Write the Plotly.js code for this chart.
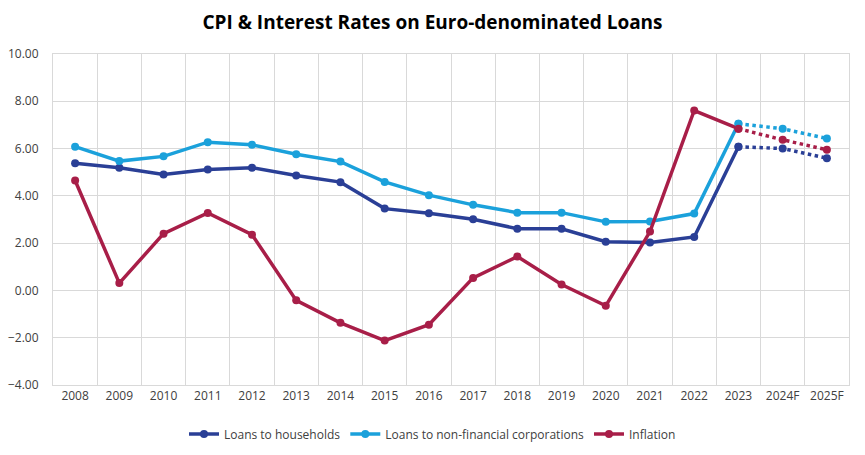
<!DOCTYPE html>
<html>
<head>
<meta charset="utf-8">
<script src="https://cdn.plot.ly/plotly-3.0.1.min.js"></script>
<style>html,body{margin:0;padding:0;background:#fff;}#chart{width:865px;height:455px;}</style>
</head>
<body>
<div id="chart"></div>
<script>
const years = ["2008","2009","2010","2011","2012","2013","2014","2015","2016","2017","2018","2019","2020","2021","2022","2023","2024F","2025F"];
const households = [5.38,5.19,4.90,5.11,5.19,4.86,4.58,3.46,3.26,3.01,2.61,2.61,2.06,2.03,2.26,6.08,6.00,5.59];
const corporations = [6.08,5.47,5.67,6.27,6.16,5.76,5.45,4.59,4.03,3.62,3.29,3.29,2.90,2.92,3.25,7.05,6.84,6.43];
const inflation = [4.65,0.31,2.40,3.28,2.36,-0.42,-1.37,-2.12,-1.45,0.53,1.43,0.25,-0.65,2.49,7.61,6.84,6.37,5.95];
const seriesNames = ["Loans to households","Loans to non-financial corporations","Inflation"];
const colors = ["#2A3F96","#1BA1DB","#A81E48"];
const actualCount = 16; // through 2023

const data = [];
[households, corporations, inflation].forEach((vals, i) => {
  data.push({
    x: years.slice(0, actualCount), y: vals.slice(0, actualCount),
    type: "scatter", mode: "lines+markers", name: seriesNames[i],
    line: {color: colors[i], width: 3.5}, marker: {color: colors[i], size: 8}
  });
});
[households, corporations, inflation].forEach((vals, i) => {
  data.push({
    x: years.slice(actualCount - 1), y: vals.slice(actualCount - 1),
    type: "scatter", mode: "lines+markers", showlegend: false,
    line: {color: colors[i], width: 3.5, dash: "dot"}, marker: {color: colors[i], size: 8}
  });
});

const layout = {
  width: 865, height: 455,
  margin: {l: 53, r: 16, t: 54, b: 70},
  paper_bgcolor: "#fff", plot_bgcolor: "#fff",
  font: {family: "Open Sans, sans-serif", color: "#404040", size: 12},
  title: {text: "<b>CPI & Interest Rates on Euro-denominated Loans</b>", x: 0.5, xanchor: "center", y: 0.951, yanchor: "middle",
          font: {size: 19, color: "#000", family: "Open Sans, sans-serif"}},
  xaxis: {type: "category", categoryorder: "array", categoryarray: years, range: [-0.5, years.length - 0.5],
          tickson: "boundaries", showgrid: true, gridcolor: "#d9d9d9", gridwidth: 1, tickangle: 0,
          automargin: false, showline: true, linecolor: "#d9d9d9", mirror: true, ticks: "outside", ticklen: 8, tickcolor: "rgba(0,0,0,0)",
          tickfont: {size: 12, color: "#404040"}, fixedrange: true},
  yaxis: {range: [-4, 10], dtick: 2, tickformat: ".2f", showgrid: true, gridcolor: "#d9d9d9", gridwidth: 1, automargin: false,
          zeroline: false, showline: true, linecolor: "#d9d9d9", mirror: true, ticks: "outside", ticklen: 11, tickcolor: "rgba(0,0,0,0)",
          tickfont: {size: 12, color: "#404040"}, fixedrange: true},
  legend: {orientation: "h", xref: "container", yref: "container", x: 0.5, xanchor: "center", y: 0.046, yanchor: "middle",
           font: {size: 12, color: "#404040"}, traceorder: "normal"},
  showlegend: true
};
Plotly.newPlot("chart", data, layout, {displayModeBar: false, staticPlot: true});
</script>
</body>
</html>
